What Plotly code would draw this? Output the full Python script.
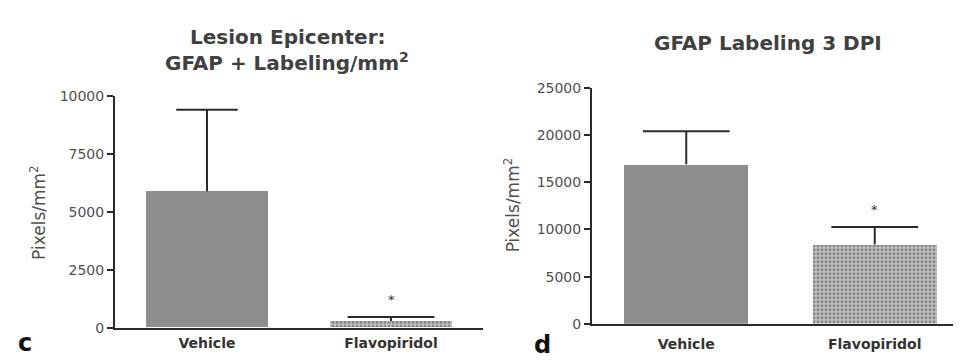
import plotly.graph_objects as go

categories = ["Vehicle", "Flavopiridol"]

# Panel c: Lesion epicenter GFAP+ labeling/mm2
c_values = [5900, 290]
c_err = [3520, 170]
c_sig = [None, 1360]
c_ticks = [0, 2500, 5000, 7500, 10000]

# Panel d: GFAP labeling 3 DPI
d_values = [16900, 8400]
d_err = [3500, 1850]
d_sig = [None, 12450]
d_ticks = [0, 5000, 10000, 15000, 20000, 25000]

W, H = 961, 364
FONT = "DejaVu Sans"
AX = "#2a2a2a"
TXT = "#3a3a3a"

solid_gray = "#8e8e8e"
pat = dict(shape=".", fgcolor="#3c3c3c", bgcolor="#c8c8c8", size=4, solidity=0.5)

fig = go.Figure()

def add_panel(vals, errs, xa, ya, caps):
    for i in range(2):
        marker = dict(color=solid_gray, line=dict(width=0)) if i == 0 else dict(
            color="#c8c8c8", pattern=pat, line=dict(width=0))
        fig.add_trace(go.Bar(
            x=[categories[i]], y=[vals[i]], width=0.66, marker=marker,
            xaxis=xa, yaxis=ya, showlegend=False, hoverinfo="skip"))
    for i in range(2):
        fig.add_trace(go.Scatter(
            x=[categories[i], categories[i]], y=[vals[i], vals[i] + errs[i]],
            mode="lines", line=dict(color=AX, width=2),
            xaxis=xa, yaxis=ya, showlegend=False, hoverinfo="skip"))
        fig.add_trace(go.Scatter(
            x=[categories[i]], y=[vals[i] + errs[i]], mode="markers",
            marker=dict(symbol="line-ew", size=caps[i], line=dict(color=AX, width=2)),
            xaxis=xa, yaxis=ya, showlegend=False, hoverinfo="skip"))

add_panel(c_values, c_err, "x", "y", [44, 62])
add_panel(d_values, d_err, "x2", "y2", [62, 62])

def px2fx(p):
    return p / W

def py2fy(p):
    return (H - p) / H

axis_common = dict(showgrid=False, zeroline=False, showline=True, linecolor=AX, linewidth=2)
TICKF = dict(size=14, color="#505050", family=FONT)
CATF = dict(size=14, color="#333", family=FONT)

fig.update_layout(
    width=W, height=H, margin=dict(l=0, r=0, t=0, b=0),
    plot_bgcolor="white", paper_bgcolor="white", bargap=0,
    font=dict(family=FONT, color=TXT),
    xaxis=dict(domain=[px2fx(107), px2fx(475)], range=[-0.5, 1.5], anchor="y",
               ticks="", tickfont=CATF, tickprefix="<b>", ticksuffix="</b>",
               ticklabelstandoff=2, **axis_common),
    yaxis=dict(domain=[py2fy(326), py2fy(84)], range=[0, 10000], anchor="x",
               tickvals=c_ticks, ticktext=[str(t) for t in c_ticks], ticks="outside",
               ticklen=6, tickwidth=2, tickcolor=AX, tickfont=TICKF,
               ticklabelstandoff=0, **axis_common),
    xaxis2=dict(domain=[px2fx(584), 1.0], range=[-0.5, 1.5], anchor="y2",
                ticks="", tickfont=CATF, tickprefix="<b>", ticksuffix="</b>",
                ticklabelstandoff=6, **axis_common),
    yaxis2=dict(domain=[py2fy(322), py2fy(75)], range=[0, 25000], anchor="x2",
                tickvals=d_ticks, ticktext=[str(t) for t in d_ticks], ticks="outside",
                ticklen=6, tickwidth=2, tickcolor=AX, tickfont=TICKF,
                ticklabelstandoff=0, **axis_common),
)

TF = dict(size=20, color="#404040", family=FONT)

def note(text, xp, yp, font, angle=0):
    return dict(text=text, x=px2fx(xp), y=py2fy(yp), xref="paper", yref="paper",
                xanchor="center", yanchor="middle", showarrow=False, font=font,
                textangle=angle)

ann = [
    note("<b>Lesion Epicenter:</b>", 280, 22, TF),
    note("<b>GFAP + Labeling/mm<sup>2</sup></b>", 279, 48, TF),
    note("<b>GFAP Labeling 3 DPI</b>", 760, 28, TF),
    note("Pixels/mm<sup>2</sup>", 30, 206, dict(size=17, color="#505050", family=FONT), -90),
    note("Pixels/mm<sup>2</sup>", 504, 198, dict(size=17, color="#505050", family=FONT), -90),
    note("<b>c</b>", 17, 342, dict(size=24, color="#111", family=FONT)),
    note("<b>d</b>", 534, 344, dict(size=24, color="#111", family=FONT)),
]
for i, s in enumerate(c_sig):
    if s is not None:
        ann.append(dict(text="*", x=categories[i], y=s, xref="x", yref="y", showarrow=False,
                        xanchor="center", yanchor="middle",
                        font=dict(size=13, color="#333"), yshift=-3))
for i, s in enumerate(d_sig):
    if s is not None:
        ann.append(dict(text="*", x=categories[i], y=s, xref="x2", yref="y2", showarrow=False,
                        xanchor="center", yanchor="middle",
                        font=dict(size=13, color="#333"), yshift=-3))

fig.update_layout(annotations=ann)
fig.write_html("out.html")
